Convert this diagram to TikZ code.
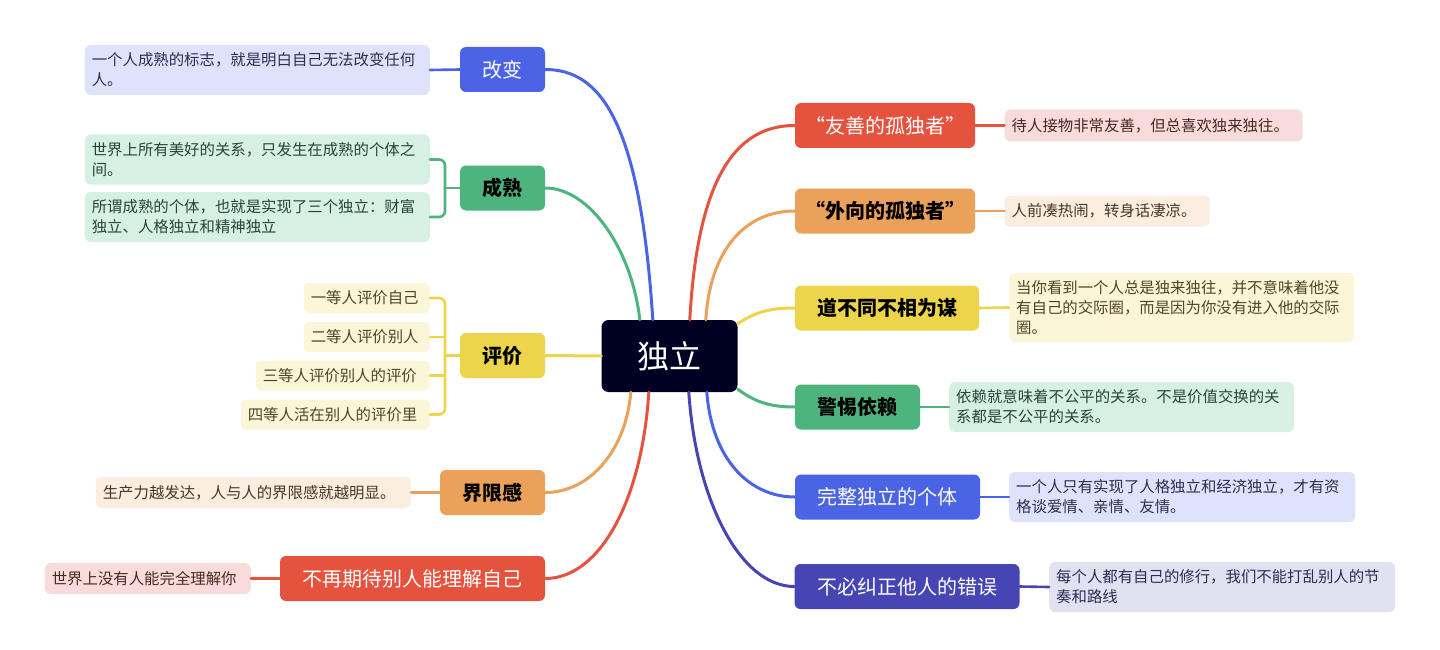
\documentclass[tikz,border=0pt]{standalone}
\usepackage{fontspec}
\setmainfont{Noto Sans CJK SC}
\usetikzlibrary{calc}
\definecolor{cblue}{HTML}{4B64E6}
\definecolor{cgreen}{HTML}{4DB47D}
\definecolor{cyellow}{HTML}{EDD54B}
\definecolor{corange}{HTML}{EBA159}
\definecolor{cred}{HTML}{E5533F}
\definecolor{cpurple}{HTML}{4744B3}
\definecolor{ccenter}{HTML}{000022}
\definecolor{lblue}{HTML}{DEE2FA}
\definecolor{lgreen}{HTML}{D6F0E3}
\definecolor{lyellow}{HTML}{FBF6D7}
\definecolor{lorange}{HTML}{FBEDE0}
\definecolor{lred}{HTML}{F8DCDB}
\definecolor{lpurple}{HTML}{E1E1F2}
\definecolor{tblue}{HTML}{2B3050}
\definecolor{tgreen}{HTML}{24473A}
\definecolor{tyellow}{HTML}{4D4526}
\definecolor{torange}{HTML}{4A3626}
\definecolor{tred}{HTML}{4A2626}
\definecolor{tpurple}{HTML}{2E2C52}
\begin{document}
\begin{tikzpicture}[x=1pt,y=-1pt,
  mainbox/.style={rounded corners=6pt, minimum height=45pt, inner sep=0pt, font=\fontsize{20}{24}\selectfont},
  darktext/.style={text=black, font=\fontsize{20}{24}\selectfont\bfseries},
  leafbox/.style={rounded corners=6pt, inner xsep=7pt, inner ysep=0pt, align=left, font=\fontsize{15.4}{20}\selectfont},
  link/.style={line width=3pt, line cap=round},
  sublink/.style={line width=2.6pt, line cap=round, rounded corners=6pt}]
\useasboundingbox (0,0) rectangle (1440,650);
\fill[white] (0,0) rectangle (1440,650);

% center
\node[rounded corners=7pt, fill=ccenter, text=white, minimum width=136pt, minimum height=72pt, inner sep=0pt, font=\fontsize{32}{36}\selectfont] (c) at (669.5,356) {独立};

% left main nodes
\node[mainbox, fill=cblue, text=white, minimum width=85pt] (gaibian) at (502.5,69.5) {改变};
\node[mainbox, fill=cgreen, darktext, minimum width=85pt] (chengshu) at (502.5,188) {成熟};
\node[mainbox, fill=cyellow, darktext, minimum width=85pt] (pingjia) at (502.5,355.5) {评价};
\node[mainbox, fill=corange, darktext, minimum width=105pt] (jiexian) at (492.5,492.5) {界限感};
\node[mainbox, fill=cred, text=white, minimum width=265pt] (buzai) at (412.5,578.5) {不再期待别人能理解自己};

% right main nodes
\node[mainbox, fill=cred, text=white, minimum width=180pt] (youshan) at (885,125.5) {“友善的孤独者”};
\node[mainbox, fill=corange, darktext, minimum width=180pt] (waixiang) at (885,211) {“外向的孤独者”};
\node[mainbox, fill=cyellow, darktext, minimum width=184pt] (daobu) at (887,308) {道不同不相为谋};
\node[mainbox, fill=cgreen, darktext, minimum width=125pt] (jingti) at (857.5,407) {警惕依赖};
\node[mainbox, fill=cblue, text=white, minimum width=185pt] (wanzheng) at (887.5,497) {完整独立的个体};
\node[mainbox, fill=cpurple, text=white, minimum width=225pt] (bubi) at (907,586.5) {不必纠正他人的错误};

% left leaves
\node[leafbox, fill=lblue, text=tblue, text width=331pt, minimum height=50pt, anchor=east] (lg) at (430,70) {一个人成熟的标志，就是明白自己无法改变任何\\人。};
\node[leafbox, fill=lgreen, text=tgreen, text width=331pt, minimum height=50pt, anchor=east] (lc1) at (430,159.5) {世界上所有美好的关系，只发生在成熟的个体之\\间。};
\node[leafbox, fill=lgreen, text=tgreen, text width=331pt, minimum height=50pt, anchor=east] (lc2) at (430,217) {所谓成熟的个体，也就是实现了三个独立：财富\\独立、人格独立和精神独立};
\node[leafbox, fill=lyellow, text=tyellow, text width=112pt, minimum height=30pt, anchor=east] (lp1) at (430,298) {一等人评价自己};
\node[leafbox, fill=lyellow, text=tyellow, text width=112pt, minimum height=30pt, anchor=east] (lp2) at (430,337) {二等人评价别人};
\node[leafbox, fill=lyellow, text=tyellow, text width=160pt, minimum height=30pt, anchor=east] (lp3) at (430,375.5) {三等人评价别人的评价};
\node[leafbox, fill=lyellow, text=tyellow, text width=175pt, minimum height=30pt, anchor=east] (lp4) at (430,414.5) {四等人活在别人的评价里};
\node[leafbox, fill=lorange, text=torange, text width=301pt, minimum height=31pt, anchor=east] (lj) at (411,492.5) {生产力越发达，人与人的界限感就越明显。};
\node[leafbox, fill=lred, text=tred, text width=192pt, minimum height=31pt, anchor=east] (lb) at (251,578.5) {世界上没有人能完全理解你};

% right leaves
\node[leafbox, fill=lred, text=tred, text width=284pt, minimum height=32pt, anchor=west] (ry) at (1004.5,125.5) {待人接物非常友善，但总喜欢独来独往。};
\node[leafbox, fill=lorange, text=torange, text width=191pt, minimum height=31pt, anchor=west] (rw) at (1004.5,211) {人前凑热闹，转身话凄凉。};
\node[leafbox, fill=lyellow, text=tyellow, text width=331pt, minimum height=69pt, anchor=west] (rd) at (1009,307.5) {当你看到一个人总是独来独往，并不意味着他没\\有自己的交际圈，而是因为你没有进入他的交际\\圈。};
\node[leafbox, fill=lgreen, text=tgreen, text width=331pt, minimum height=50pt, anchor=west] (rj) at (949,407) {依赖就意味着不公平的关系。不是价值交换的关\\系都是不公平的关系。};
\node[leafbox, fill=lblue, text=tblue, text width=332pt, minimum height=50pt, anchor=west] (rz) at (1009,497) {一个人只有实现了人格独立和经济独立，才有资\\格谈爱情、亲情、友情。};
\node[leafbox, fill=lpurple, text=tpurple, text width=332pt, minimum height=50pt, anchor=west] (rb) at (1049,587) {每个人都有自己的修行，我们不能打乱别人的节\\奏和路线};

% center connectors, left
\draw[link, cblue] ([xshift=51.5pt]c.north west) .. controls (640,120) and (600,69.5) .. (gaibian.east);
\draw[link, cgreen] ([xshift=38.5pt]c.north west) .. controls (632,250) and (590,188) .. (chengshu.east);
\draw[link, cyellow] (c.west) -- (pingjia.east);
\draw[link, corange] ([xshift=29.5pt]c.south west) .. controls (626,450) and (590,492.5) .. (jiexian.east);
\draw[link, cred] ([xshift=47.5pt]c.south west) .. controls (642,500) and (600,578.5) .. (buzai.east);

% center connectors, right
\draw[link, cred] ([xshift=88.5pt]c.north west) .. controls (698,170) and (740,125.5) .. (youshan.west);
\draw[link, corange] ([xshift=104.5pt]c.north west) .. controls (710,250) and (745,211) .. (waixiang.west);
\draw[link, cyellow] ([yshift=-4pt]c.north east) .. controls (755,312) and (770,308) .. (daobu.west);
\draw[link, cgreen] ([yshift=3pt]c.south east) .. controls (755,402) and (770,407) .. (jingti.west);
\draw[link, cblue] ([xshift=105.5pt]c.south west) .. controls (712,460) and (750,497) .. (wanzheng.west);
\draw[link, cpurple] ([xshift=87.5pt]c.south west) .. controls (696,500) and (740,586.5) .. (bubi.west);

% leaf connectors
\coordinate (bk1) at (445,188);
\coordinate (bk2) at (445,355.5);
\draw[sublink, cblue] (lg.east) -- (gaibian.west);
\draw[sublink, cgreen] (chengshu.west) -- (bk1);
\draw[sublink, cgreen] (lc1.east) -| (bk1) |- (lc2.east);
\draw[sublink, cyellow] (pingjia.west) -- (bk2);
\draw[sublink, cyellow] (lp1.east) -| (bk2) |- (lp4.east);
\draw[sublink, cyellow] (lp2.east) -- (lp2.east -| bk2);
\draw[sublink, cyellow] (lp3.east) -- (lp3.east -| bk2);
\draw[sublink, corange] (lj.east) -- (jiexian.west);
\draw[sublink, cred] (lb.east) -- (buzai.west);
\draw[sublink, cred] (youshan.east) -- (ry.west);
\draw[sublink, corange] (waixiang.east) -- (rw.west);
\draw[sublink, cyellow] (daobu.east) -- (rd.west);
\draw[sublink, cgreen] (jingti.east) -- (rj.west);
\draw[sublink, cblue] (wanzheng.east) -- (rz.west);
\draw[sublink, cpurple] (bubi.east) -- (rb.west);
\end{tikzpicture}
\end{document}
